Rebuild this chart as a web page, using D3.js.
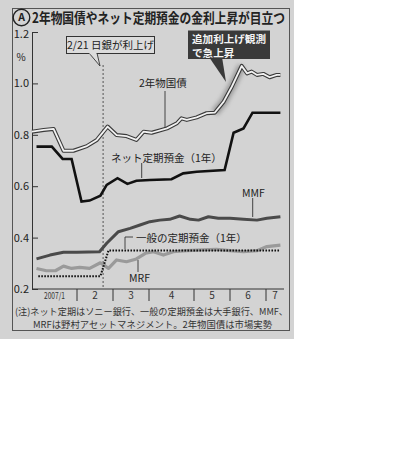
<!DOCTYPE html>
<html><head><meta charset="utf-8">
<script src="https://cdn.jsdelivr.net/npm/d3@7"></script>
<style>
html,body{margin:0;padding:0;background:#fff;}
svg{display:block;}
text{font-family:"Noto Sans CJK JP","Noto Sans",Roboto,sans-serif;}
</style></head>
<body>
<svg id="c" width="404" height="458"></svg>
<script>
// ---- data (x = week index from start of 2007, y = %) ----
const monthStarts = [0, 5, 9, 13, 18, 22, 26];
const monthLabels = ["2007/1", "2", "3", "4", "5", "6", "7"];
const weekEnd = 28;
const yTicks = [0.2, 0.4, 0.6, 0.8, 1.0, 1.2];
const bojWeek = 7.9; // 2/21

const jgb = [[0,0.812],[1.3,0.819],[2.4,0.823],[3.5,0.738],[4.6,0.738],[6.1,0.756],[7.2,0.78],[8.4,0.832],[9.4,0.799],[10.5,0.795],[11.6,0.78],[12.4,0.812],[13.3,0.808],[15,0.825],[16.1,0.845],[16.6,0.864],[17.2,0.858],[18.3,0.868],[19.4,0.884],[20.3,0.886],[21.3,0.929],[22.2,0.987],[23.3,1.068],[23.9,1.039],[24.4,1.046],[25,1.033],[25.7,1.037],[26.4,1.024],[27.2,1.033],[27.6,1.033]];
const netDeposit = [[0.5,0.754],[2.2,0.754],[3.4,0.706],[4.4,0.706],[5.5,0.54],[6.4,0.544],[7.6,0.563],[8.3,0.605],[9.5,0.631],[10.6,0.609],[11.6,0.621],[13.1,0.624],[15.5,0.627],[16.8,0.65],[18.3,0.656],[21.4,0.663],[22.4,0.808],[23.5,0.825],[24.5,0.886],[27.6,0.886]];
const mmf = [[0.5,0.317],[2,0.332],[3.5,0.343],[5,0.343],[7.5,0.345],[8.3,0.378],[9.6,0.423],[10.9,0.436],[12,0.449],[13.1,0.462],[14.2,0.468],[15.3,0.471],[16.4,0.484],[17.6,0.471],[18.5,0.468],[19.6,0.481],[20.7,0.475],[22,0.475],[23.5,0.471],[25,0.468],[26.1,0.475],[27.6,0.481]];
const ordinaryDeposit = [[0.7,0.25],[7.6,0.25],[8.5,0.35],[27.6,0.35]];
const mrf = [[0.5,0.28],[1.6,0.271],[2.6,0.271],[3.5,0.289],[4.4,0.28],[5.3,0.284],[6.4,0.28],[7.6,0.302],[8,0.293],[8.5,0.28],[9.4,0.313],[10.5,0.306],[11.6,0.317],[12.6,0.339],[13.5,0.345],[14.6,0.332],[15.7,0.345],[17.2,0.349],[19,0.352],[20.5,0.354],[22,0.349],[23.5,0.345],[25,0.349],[26.1,0.365],[27.6,0.371]];

// ---- drawing ----
const svg = d3.select("#c");
const ink = "#222";
svg.append("rect").attr("x",0).attr("y",0).attr("width",294).attr("height",339).attr("fill","#d3d3d3");
svg.append("rect").attr("x",12.5).attr("y",8.5).attr("width",277).attr("height",322).attr("fill","none").attr("stroke","#555").attr("stroke-width",1);

const x = d3.scaleLinear().domain([0, weekEnd]).range([32, 284]);
const y = d3.scaleLinear().domain([0.2, 1.2]).range([289, 32]);

// title
svg.append("circle").attr("cx",21.5).attr("cy",17.5).attr("r",8.3).attr("fill","#d3d3d3").attr("stroke",ink).attr("stroke-width",1.4);
svg.append("text").attr("x",21.5).attr("y",21.3).attr("text-anchor","middle").attr("font-size",10.5).attr("font-weight","bold").attr("font-family","Roboto,sans-serif").attr("fill",ink).text("A");
svg.append("text").attr("x",32).attr("y",23).attr("font-size",14).attr("font-weight","bold").attr("fill",ink)
  .attr("textLength",253).attr("lengthAdjust","spacingAndGlyphs").text("2年物国債やネット定期預金の金利上昇が目立つ");

// y axis
const yAxis = d3.axisLeft(y).tickValues(yTicks).tickFormat(d3.format(".1f")).tickSizeInner(-6).tickSizeOuter(0).tickPadding(3);
const gy = svg.append("g").attr("transform","translate(32,0)").call(yAxis);
gy.select(".domain").attr("stroke","#333").attr("stroke-width",1);
gy.selectAll(".tick line").attr("stroke","#333");
gy.selectAll(".tick text").attr("font-size",11).attr("fill",ink).attr("font-family","Roboto,sans-serif")
  .filter(d=>d===1.2).attr("y",2);
svg.append("text").attr("x",21).attr("y",61).attr("text-anchor","middle").attr("font-size",10).attr("fill",ink).attr("font-family","Roboto,sans-serif").text("%");

// x axis
svg.append("line").attr("x1",x(0)).attr("x2",x(weekEnd)).attr("y1",y(0.2)).attr("y2",y(0.2)).attr("stroke","#333");
svg.selectAll(".msep").data(monthStarts.slice(1)).join("line")
  .attr("x1",d=>x(d)).attr("x2",d=>x(d)).attr("y1",y(0.2)).attr("y2",y(0.2)+12).attr("stroke","#333");
svg.selectAll(".mlab").data(monthLabels).join("text")
  .attr("x",(d,i)=>x(((monthStarts[i]) + (i+1<monthStarts.length?monthStarts[i+1]:weekEnd))/2))
  .attr("y",y(0.2)+10).attr("text-anchor","middle").attr("font-family","Roboto,sans-serif")
  .attr("font-size",(d,i)=>i===0?9:10).attr("fill","#333")
  .each(function(d,i){ if(i===0) d3.select(this).attr("textLength",21).attr("lengthAdjust","spacingAndGlyphs"); })
  .text(d=>d);

// BOJ dashed line
svg.append("line").attr("x1",x(bojWeek)).attr("x2",x(bojWeek)).attr("y1",65).attr("y2",y(0.2)).attr("stroke","#333").attr("stroke-width",0.8).attr("stroke-dasharray","2,2");

const line = d3.line().x(d=>x(d[0])).y(d=>y(d[1]));

// glow on rising JGB segment
const defs = svg.append("defs");
defs.append("filter").attr("id","blur").attr("x","-50%").attr("y","-50%").attr("width","200%").attr("height","200%")
  .append("feGaussianBlur").attr("stdDeviation",2.2);
svg.append("path").datum(jgb.filter(d=>d[0]>=20.3&&d[0]<=23.3)).attr("d",line).attr("fill","none")
  .attr("stroke","#8a8a8a").attr("stroke-width",8).attr("filter","url(#blur)").attr("opacity",0.8);

// series
svg.append("path").datum(mrf).attr("d",line).attr("fill","none").attr("stroke","#9a9a9a").attr("stroke-width",3.2).attr("stroke-linejoin","round");
svg.append("path").datum(ordinaryDeposit).attr("d",line).attr("fill","none").attr("stroke","#111").attr("stroke-width",2).attr("stroke-dasharray","1.6,1.4");
svg.append("path").datum(mmf).attr("d",line).attr("fill","none").attr("stroke","#4a4a4a").attr("stroke-width",3).attr("stroke-linejoin","round");
svg.append("path").datum(netDeposit).attr("d",line).attr("fill","none").attr("stroke","#111").attr("stroke-width",2.6).attr("stroke-linejoin","miter");
svg.append("path").datum(jgb).attr("d",line).attr("fill","none").attr("stroke","#3a3a3a").attr("stroke-width",4).attr("stroke-linejoin","round");
svg.append("path").datum(jgb).attr("d",line).attr("fill","none").attr("stroke","#f2f2f2").attr("stroke-width",1.8).attr("stroke-linejoin","round");

// labels + leaders
function lab(tx,ty,str,size){ svg.append("text").attr("x",tx).attr("y",ty).attr("font-size",size||10.5).attr("fill",ink).text(str); }
function seg(pts){ svg.append("path").attr("d",d3.line()(pts)).attr("fill","none").attr("stroke","#333").attr("stroke-width",0.9); }
lab(139,86.5,"2年物国債"); seg([[165,91],[165,128]]);
lab(111,162,"ネット定期預金（1年）"); seg([[141.7,163],[141.7,178]]);
lab(242,196.5,"MMF"); seg([[252.7,198],[252.7,217]]);
lab(136,241.5,"一般の定期預金（1年）"); seg([[133,237],[125,237],[125,249]]);
lab(129,282,"MRF"); seg([[138,260],[138,272]]);

// callout 1
svg.append("path").attr("d","M89,53 L100,66 L97,53").attr("fill","#dcdcdc").attr("stroke","#333").attr("stroke-width",0.9);
svg.append("rect").attr("x",66.5).attr("y",36.5).attr("width",88).attr("height",17).attr("fill","#dcdcdc").attr("stroke","#333").attr("stroke-width",1);
svg.append("line").attr("x1",89.5).attr("x2",96.5).attr("y1",53.5).attr("y2",53.5).attr("stroke","#dcdcdc").attr("stroke-width",1.4);
svg.append("text").attr("x",110.5).attr("y",49).attr("text-anchor","middle").attr("font-size",10.5).attr("fill",ink).text("2/21 日銀が利上げ");

// callout 2
svg.append("path").attr("d","M209,57 L226,82 L222,57 Z").attr("fill","#3a3a3a");
svg.append("rect").attr("x",188).attr("y",30.5).attr("width",82).attr("height",28.5).attr("fill","#3a3a3a");
const c2 = svg.append("text").attr("font-size",10).attr("font-weight","bold").attr("fill","#f4f4f4");
c2.append("tspan").attr("x",192).attr("y",42.5).attr("textLength",74).attr("lengthAdjust","spacingAndGlyphs").text("追加利上げ観測");
c2.append("tspan").attr("x",192).attr("y",57.1).attr("textLength",42.5).attr("lengthAdjust","spacingAndGlyphs").text("で急上昇");

// notes
const nt = svg.append("text").attr("font-size",9.3).attr("fill","#333");
nt.append("tspan").attr("x",15).attr("y",314.5).attr("textLength",273).attr("lengthAdjust","spacingAndGlyphs").text("(注)ネット定期はソニー銀行、一般の定期預金は大手銀行、MMF、");
nt.append("tspan").attr("x",33).attr("y",328.1).attr("textLength",239).attr("lengthAdjust","spacingAndGlyphs").text("MRFは野村アセットマネジメント。2年物国債は市場実勢");
</script>
</body></html>
